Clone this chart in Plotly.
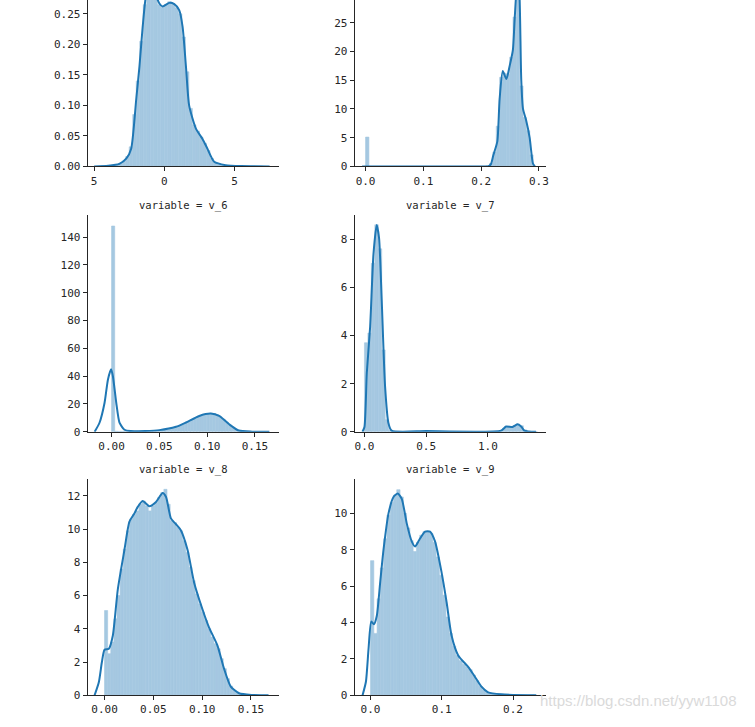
import plotly.graph_objects as go

# ---------------- data ----------------
# Panel A (top-left, title cut off)
a_bin_start = -4.5
a_bin_width = 0.25
a_hist = [0.0005, 0.001, 0.001, 0.002, 0.003, 0.005, 0.009, 0.016, 0.032, 0.085,
          0.14, 0.205, 0.265, 0.292, 0.296, 0.282, 0.265, 0.261, 0.265, 0.27,
          0.267, 0.26, 0.25, 0.212, 0.155, 0.095, 0.068, 0.058, 0.048, 0.038,
          0.026, 0.013, 0.006, 0.003, 0.002, 0.001, 0.001, 0.0005, 0.0005, 0.0003,
          0.0003, 0.0002, 0.0002, 0.0001, 0.0001, 0.0001]
a_kde_x = [-5.0, -4.0, -3.2, -2.7, -2.36, -2.0, -1.77, -1.54, -1.3, -1.0, -0.7, -0.35,
           -0.12, 0.35, 0.71, 1.06, 1.3, 1.54, 1.77, 2.25, 2.72, 3.07, 3.55, 4.37, 5.5, 7.5]
a_kde_y = [0.0, 0.001, 0.004, 0.013, 0.029, 0.11, 0.164, 0.229, 0.28, 0.298, 0.285, 0.267,
           0.262, 0.268, 0.266, 0.256, 0.229, 0.164, 0.0995, 0.062, 0.045, 0.029, 0.0076,
           0.002, 0.0005, 0.0]

# Panel B (top-right, title cut off)
b_bin_start = 0.0
b_bin_width = 0.0058
b_hist = [5.1,
          0, 0, 0, 0, 0, 0, 0, 0, 0, 0, 0, 0, 0, 0, 0, 0, 0, 0, 0, 0, 0, 0, 0, 0, 0,
          0, 0, 0, 0, 0, 0, 0, 0, 0, 0,
          0.1, 0.5, 2.5, 7.0, 15.5, 16.2, 16.0, 19.0, 26.0, 34.0, 14.0, 8.5, 6.2, 2.0]
b_kde_x = [-0.006, 0.0, 0.05, 0.1, 0.15, 0.2, 0.212, 0.217, 0.221, 0.228, 0.232, 0.2375,
           0.2437, 0.2494, 0.255, 0.258, 0.2635, 0.2667, 0.2695, 0.2725, 0.278, 0.284,
           0.2897, 0.293]
b_kde_y = [0, 0, 0, 0, 0, 0, 0, 0.4, 1.9, 4.3, 11.7, 16.6, 15.2, 17.5, 20.3, 25.5, 34.0,
           29.0, 15.0, 10.0, 8.0, 5.0, 0.5, 0]

# variable = v_6
c_bin_start = 0.0
c_bin_width = 0.0033
c_hist = [148, 0.4, 0.3, 0.3, 0.3, 0.3, 0.4, 0.4, 0.5, 0.5,
          0.6, 0.6, 0.7, 0.8, 0.9,
          1.1, 1.3, 1.6, 2.0, 2.6, 3.3, 4.2, 5.1, 6.2, 7.3, 8.5, 9.6, 10.8, 11.7, 12.5,
          13.0, 13.3, 13.1, 12.2, 10.9, 9.0, 6.9, 4.8, 3.1, 1.9, 1.0, 0.5, 0.3, 0.2, 0.15,
          0.1, 0.1, 0.05, 0.05, 0.02]
c_kde_x = [-0.0177, -0.0125, -0.0073, -0.0038, -0.0005, 0.0014, 0.0049, 0.0083, 0.0135,
           0.02, 0.035, 0.05, 0.0674, 0.0778, 0.0917, 0.1038, 0.1125, 0.123, 0.133, 0.147, 0.165]
c_kde_y = [0, 6.7, 20.9, 37.5, 45.0, 40, 20.9, 6.6, 1.5, 0.5, 0.6, 1.2, 3.6, 6.7, 11.4,
           13.1, 11.4, 5.4, 0.9, 0.1, 0]

# variable = v_7
d_bin_start = 0.0
d_bin_width = 0.028
d_hist = [3.7, 4.1, 7.0, 8.6, 7.6, 3.4, 0.5, 0.06,
          0.01, 0.01, 0.01, 0.01, 0.01, 0.01, 0.01, 0.01, 0.01, 0.01, 0.01, 0.01, 0.01,
          0.01, 0.01, 0.01, 0.01, 0.01, 0.01, 0.01, 0.01, 0.01, 0.01, 0.01, 0.01, 0.01,
          0.01, 0.01, 0.01, 0.01, 0.01,
          0.05, 0.15, 0.22, 0.2, 0.25, 0.32, 0.25, 0.08, 0.02, 0.01, 0.01]
d_kde_x = [-0.016, 0.0, 0.019, 0.046, 0.073, 0.099, 0.118, 0.14, 0.167, 0.194, 0.22, 0.5,
           1.107, 1.148, 1.2, 1.242, 1.27, 1.296, 1.39]
d_kde_y = [0, 0.2, 2.44, 4.36, 7.38, 8.59, 8.07, 5.46, 1.9, 0.37, 0.05, 0.03,
           0.05, 0.22, 0.2, 0.31, 0.22, 0.05, 0]

# variable = v_8
e_bin_start = 0.0
e_bin_width = 0.0032
e_hist = [5.1, 2.5, 3.2, 4.6, 6.0, 7.6, 8.8, 9.9, 10.6, 10.9,
          11.1, 11.5, 11.7, 11.4, 11.1, 11.4, 11.6, 11.9, 12.2, 12.4,
          11.5, 10.5, 10.4, 10.1, 9.9, 9.3, 8.6, 7.7, 6.9, 6.1,
          5.5, 5.0, 4.5, 4.0, 3.5, 3.1, 2.8, 2.2, 1.6, 1.0,
          0.55, 0.3, 0.15, 0.08, 0.05, 0.03, 0.02, 0.01, 0.01, 0.005]
e_kde_x = [-0.0102, -0.0058, -0.0027, 0.0, 0.0044, 0.0085, 0.0136, 0.0204, 0.0255, 0.0306,
           0.034, 0.039, 0.0459, 0.0527, 0.0595, 0.063, 0.068, 0.073, 0.078, 0.085, 0.0918,
           0.1003, 0.107, 0.1156, 0.1224, 0.1293, 0.1378, 0.151, 0.168]
e_kde_y = [0, 0.8, 2.0, 2.74, 2.8, 3.6, 6.38, 8.76, 10.45, 10.95, 11.34, 11.7, 11.38, 11.64,
           12.18, 11.94, 10.65, 10.31, 9.95, 8.76, 6.78, 5.18, 4.09, 3.0, 1.6, 0.52, 0.12,
           0.02, 0]

# variable = v_9
f_bin_start = 0.0
f_bin_width = 0.0046
f_hist = [7.4, 3.4, 5.3, 7.0, 8.6, 9.9, 10.6, 11.0, 11.3, 10.9,
          10.0, 9.2, 8.5, 7.9, 8.4, 8.8, 9.0, 9.0, 8.9, 8.4,
          7.6, 6.6, 5.5, 4.3, 3.4, 2.7, 2.2, 1.9, 1.7, 1.55,
          1.4, 1.1, 0.8, 0.5, 0.3, 0.18, 0.1, 0.07, 0.05, 0.04,
          0.03, 0.02, 0.01, 0.01, 0.01, 0.01, 0.01, 0.01, 0.01, 0.01]
f_kde_x = [-0.0112, -0.0065, -0.0028, 0.001, 0.0047, 0.0088, 0.0135, 0.0182, 0.0252, 0.0322,
           0.0382, 0.0438, 0.0508, 0.0578, 0.0625, 0.0685, 0.0765, 0.0835, 0.0905, 0.0998,
           0.1068, 0.1137, 0.123, 0.137, 0.1464, 0.1557, 0.165, 0.1836, 0.2326]
f_kde_y = [0, 0.74, 2.56, 4.05, 3.9, 4.37, 6.19, 8.0, 10.0, 10.9, 11.09, 10.8, 9.45, 8.46,
           8.18, 8.55, 9.0, 9.0, 8.46, 6.73, 5.1, 3.28, 2.19, 1.56, 1.02, 0.47, 0.16, 0.05, 0]

titles = [None, None, "variable = v_6", "variable = v_7", "variable = v_8", "variable = v_9"]

x_tickvals = [[-5, 0, 5], [0.0, 0.1, 0.2, 0.3], [0.0, 0.05, 0.10, 0.15],
              [0.0, 0.5, 1.0], [0.0, 0.05, 0.10, 0.15], [0.0, 0.1, 0.2]]
x_ticktext = [["5", "0", "5"], ["0.0", "0.1", "0.2", "0.3"], ["0.00", "0.05", "0.10", "0.15"],
              ["0.0", "0.5", "1.0"], ["0.00", "0.05", "0.10", "0.15"], ["0.0", "0.1", "0.2"]]
y_tickvals = [[0.0, 0.05, 0.10, 0.15, 0.20, 0.25], [0, 5, 10, 15, 20, 25],
              [0, 20, 40, 60, 80, 100, 120, 140], [0, 2, 4, 6, 8],
              [0, 2, 4, 6, 8, 10, 12], [0, 2, 4, 6, 8, 10]]
y_ticktext = [["0.00", "0.05", "0.10", "0.15", "0.20", "0.25"], ["0", "5", "10", "15", "20", "25"],
              ["0", "20", "40", "60", "80", "100", "120", "140"], ["0", "2", "4", "6", "8"],
              ["0", "2", "4", "6", "8", "10", "12"], ["0", "2", "4", "6", "8", "10"]]

# ---------------- layout / styling ----------------
W, H = 755, 727
col_px = [(88, 280), (356, 548)]
row_px = [(0, 168), (217, 436), (484, 702)]
x_ranges = [[-5.46, 8.16], [-0.019, 0.312], [-0.025, 0.175],
            [-0.08, 1.47], [-0.0173, 0.1786], [-0.0224, 0.246]]
y_ranges = [[0, 0.2727], [0, 28.97], [0, 156], [0, 9.01], [0, 13.0], [0, 11.87]]

BAR_COLOR = "#a5c8e1"
LINE_COLOR = "#1f77b4"
TXT = "#262626"
FONT = "DejaVu Sans Mono"

panels = [
    (a_bin_start, a_bin_width, a_hist, a_kde_x, a_kde_y),
    (b_bin_start, b_bin_width, b_hist, b_kde_x, b_kde_y),
    (c_bin_start, c_bin_width, c_hist, c_kde_x, c_kde_y),
    (d_bin_start, d_bin_width, d_hist, d_kde_x, d_kde_y),
    (e_bin_start, e_bin_width, e_hist, e_kde_x, e_kde_y),
    (f_bin_start, f_bin_width, f_hist, f_kde_x, f_kde_y),
]

fig = go.Figure()
layout = dict(width=W, height=H, margin=dict(l=0, r=0, t=0, b=0),
              paper_bgcolor="white", plot_bgcolor="white", showlegend=False,
              font=dict(family=FONT, size=11, color=TXT), annotations=[])

for i, (bstart, bwidth, hist, kx, ky) in enumerate(panels):
    r, c = divmod(i, 2)
    sfx = "" if i == 0 else str(i + 1)
    xa, ya = "x" + sfx, "y" + sfx
    centers = [bstart + bwidth * (k + 0.5) for k in range(len(hist))]
    fig.add_trace(go.Bar(x=centers, y=hist, width=bwidth, xaxis=xa, yaxis=ya,
                         marker=dict(color=BAR_COLOR, line=dict(width=0.6, color=BAR_COLOR)),
                         hoverinfo="skip"))
    fig.add_trace(go.Scatter(x=kx, y=ky, xaxis=xa, yaxis=ya, mode="lines",
                             line=dict(color=LINE_COLOR, width=2, shape="spline", smoothing=0.6),
                             hoverinfo="skip"))
    x0, x1 = col_px[c]
    y0, y1 = row_px[r]
    axis_common = dict(showgrid=False, zeroline=False, showline=True, linecolor=TXT,
                       linewidth=1, ticks="outside", ticklen=4, tickwidth=1, tickcolor=TXT,
                       tickfont=dict(family=FONT, size=11, color=TXT), fixedrange=True)
    layout["xaxis" + sfx] = dict(axis_common, domain=[x0 / W, x1 / W], range=x_ranges[i],
                                 anchor=ya, tickmode="array", tickvals=x_tickvals[i],
                                 ticktext=x_ticktext[i])
    layout["yaxis" + sfx] = dict(axis_common, domain=[1 - y1 / H, 1 - y0 / H], range=y_ranges[i],
                                 anchor=xa, tickmode="array", tickvals=y_tickvals[i],
                                 ticktext=y_ticktext[i])
    if titles[i]:
        layout["annotations"].append(dict(
            text=titles[i], xref="paper", yref="paper", x=(x0 + x1) / 2 / W,
            y=1 - (y0 - 10) / H, xanchor="center", yanchor="middle", showarrow=False,
            font=dict(family=FONT, size=10.5, color=TXT)))

layout["annotations"].append(dict(
    text="https://blog.csdn.net/yyw1108", xref="paper", yref="paper",
    x=641 / W, y=1 - 707 / H, xanchor="center", yanchor="middle", showarrow=False,
    font=dict(family="Liberation Sans", size=15, color="#dadada")))

fig.update_layout(**layout)

PAGE_FIX = (
    "var s=document.createElement('style');"
    "s.innerHTML='html,body{margin:0;padding:0;overflow:hidden;}';"
    "document.head.appendChild(s);"
)
fig.write_html("out.html", config={"displayModeBar": False}, post_script=PAGE_FIX)
